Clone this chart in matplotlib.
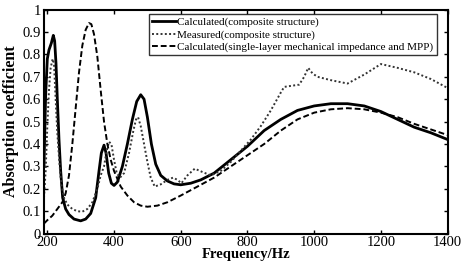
import numpy as np
import matplotlib.pyplot as plt

# Calculated (composite structure)
f_calc = [190, 195, 200, 205, 212, 218, 222, 226, 230, 235, 240, 246, 255, 265, 280,
          300, 315, 330, 345, 355, 362, 370, 376, 384, 392, 400, 410, 425, 440, 455,
          468, 480, 490, 500, 512, 525, 540, 560, 580, 600, 630, 660, 700, 750, 800,
          850, 900, 950, 1000, 1050, 1100, 1150, 1200, 1250, 1300, 1350, 1400]
a_calc = [0.30, 0.62, 0.78, 0.82, 0.85, 0.885, 0.86, 0.76, 0.60, 0.42, 0.28, 0.16, 0.11, 0.085, 0.065,
          0.057, 0.065, 0.09, 0.16, 0.28, 0.36, 0.395, 0.36, 0.27, 0.225, 0.215, 0.23, 0.30, 0.40, 0.51,
          0.59, 0.62, 0.60, 0.52, 0.40, 0.31, 0.26, 0.235, 0.222, 0.218, 0.225, 0.24, 0.27, 0.33, 0.39,
          0.46, 0.51, 0.55, 0.57, 0.58, 0.58, 0.57, 0.545, 0.51, 0.475, 0.45, 0.42]

# Measured (composite structure)
f_meas = [190, 195, 200, 205, 210, 216, 220, 225, 230, 236, 242, 250, 260, 275, 290,
          305, 320, 335, 350, 360, 370, 378, 385, 392, 400, 408, 418, 430, 445, 458,
          466, 472, 480, 490, 500, 510, 522, 540, 560, 577, 590, 602, 620, 642, 665,
          690, 720, 750, 780, 810, 840, 870, 900, 910, 955, 970, 982, 995, 1010, 1050,
          1100, 1150, 1200, 1250, 1300, 1350, 1400]
a_meas = [0.16, 0.28, 0.48, 0.64, 0.74, 0.78, 0.76, 0.60, 0.45, 0.32, 0.22, 0.16, 0.13, 0.11, 0.10,
          0.098, 0.11, 0.14, 0.20, 0.26, 0.30, 0.37, 0.41, 0.40, 0.33, 0.27, 0.25, 0.27, 0.36, 0.46,
          0.51, 0.52, 0.48, 0.40, 0.32, 0.25, 0.21, 0.22, 0.24, 0.25, 0.24, 0.225, 0.26, 0.29, 0.275,
          0.26, 0.28, 0.32, 0.37, 0.42, 0.48, 0.55, 0.63, 0.655, 0.665, 0.70, 0.74, 0.715, 0.70, 0.685,
          0.67, 0.71, 0.757, 0.74, 0.72, 0.69, 0.65]

# Calculated (single-layer mechanical impedance and MPP)
f_single = [190, 200, 215, 230, 245, 255, 265, 275, 285, 295, 305, 315, 325, 332, 340,
            350, 360, 370, 380, 390, 400, 420, 440, 460, 480, 500, 530, 560, 600, 650,
            700, 750, 800, 850, 900, 950, 1000, 1050, 1100, 1150, 1200, 1250, 1300, 1350, 1400]
a_single = [0.045, 0.06, 0.08, 0.11, 0.14, 0.18, 0.26, 0.40, 0.56, 0.72, 0.84, 0.91, 0.94, 0.935, 0.89,
            0.79, 0.64, 0.50, 0.40, 0.33, 0.28, 0.21, 0.17, 0.14, 0.125, 0.12, 0.125, 0.14, 0.17, 0.21,
            0.25, 0.30, 0.35, 0.40, 0.46, 0.51, 0.54, 0.555, 0.56, 0.555, 0.54, 0.52, 0.49, 0.465, 0.44]

plt.rcParams['font.family'] = ['Liberation Serif', 'DejaVu Serif']

fig = plt.figure(figsize=(4.61, 2.67), dpi=100)
ax = fig.add_axes([0.0954, 0.125, 0.8756, 0.839])

ax.plot(f_calc, a_calc, color='black', lw=2.0, ls='-', label='Calculated(composite structure)')
ax.plot(f_meas, a_meas, color='#333333', lw=1.4, ls=(0, (1, 1.2)), label='Measured(composite structure)')
ax.plot(f_single, a_single, color='black', lw=1.4, ls=(0, (3, 1.5)),
        label='Calculated(single-layer mechanical impedance and MPP)')

ax.set_xlim(190, 1400)
ax.set_ylim(0, 1)
ax.set_xticks(np.arange(200, 1401, 200))
ax.set_yticks(np.arange(0, 1.01, 0.1))
ax.set_yticklabels(['0', '0.1', '0.2', '0.3', '0.4', '0.5', '0.6', '0.7', '0.8', '0.9', '1'])
ax.tick_params(direction='in', top=True, right=True, length=3, width=1, labelsize=10.5, pad=2)
for s in ax.spines.values():
    s.set_linewidth(1.5)

ax.set_xlabel('Frequency/Hz', fontsize=10.5, fontweight='bold', labelpad=-1)
ax.set_ylabel('Absorption coefficient', fontsize=11.5, fontweight='bold', labelpad=3)

leg = ax.legend(loc='upper right', bbox_to_anchor=(0.973, 0.98), fontsize=8.0, frameon=True,
                fancybox=False, edgecolor='black', handlelength=2.1, handletextpad=0.15,
                borderpad=0.3, labelspacing=0.2, borderaxespad=0)
leg.get_frame().set_linewidth(1.0)

fig.savefig('out.png', dpi=100)
